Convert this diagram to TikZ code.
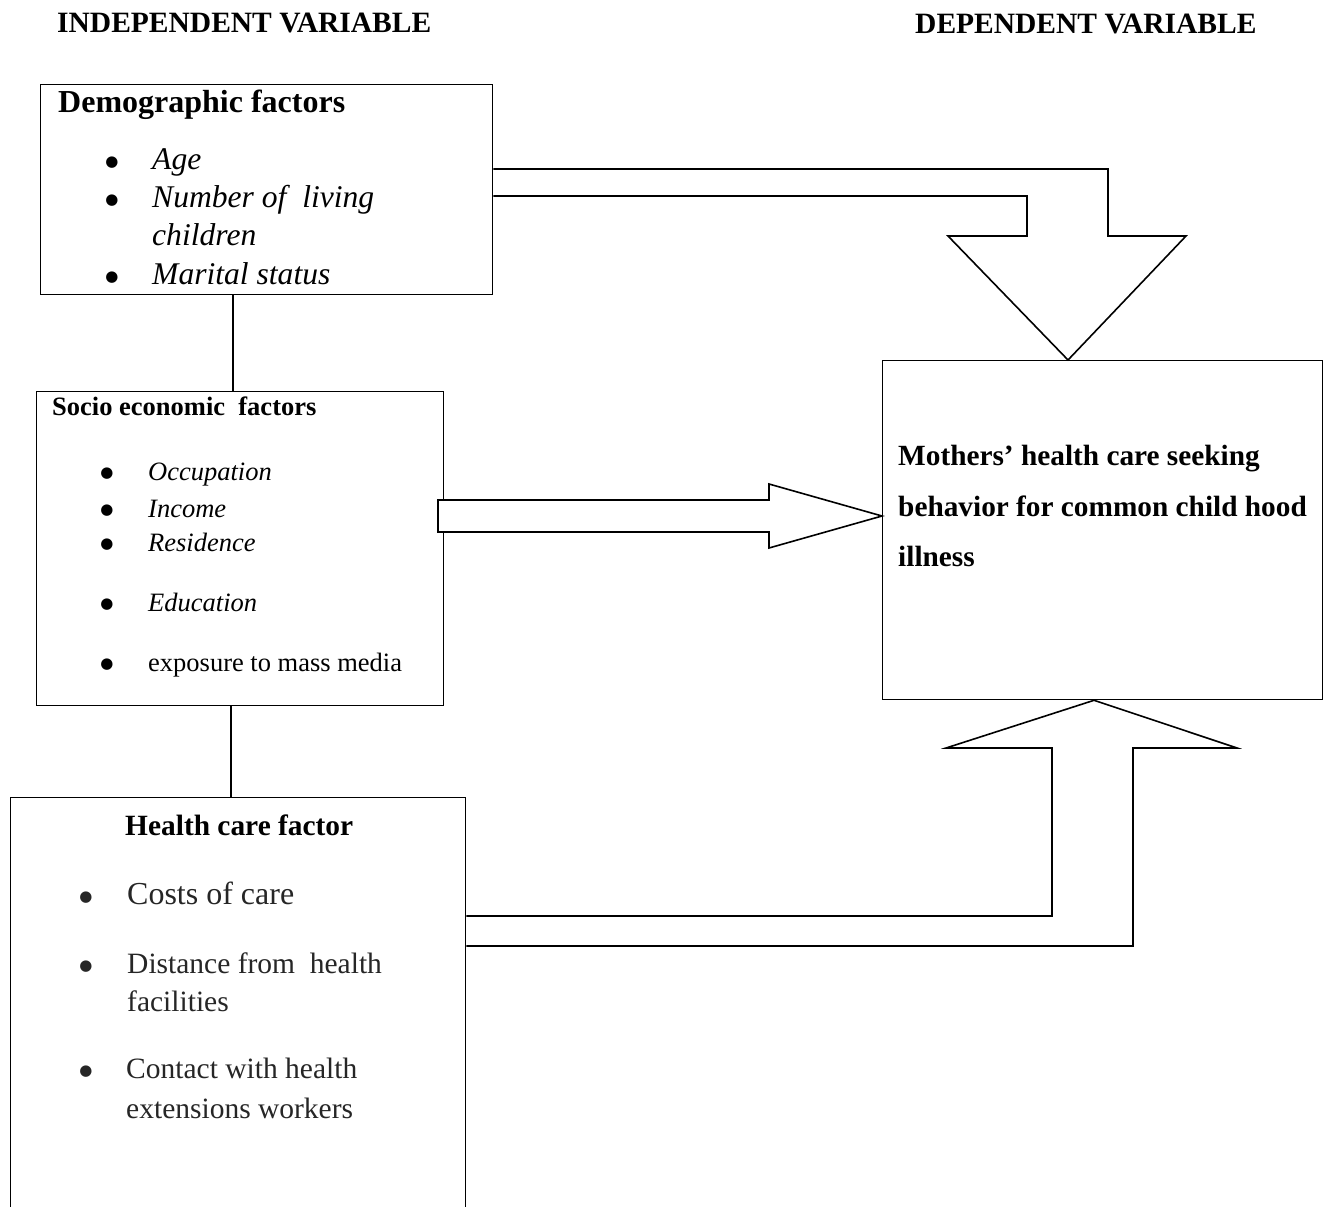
\documentclass[tikz,border=0pt]{standalone}
\usepackage{fontspec}
\setmainfont{Liberation Serif}
\newfontfamily\dvfont{DejaVu Sans}
\newcommand{\bigbul}[1]{\raisebox{#1pt}{\dvfont\fontsize{15}{15}\selectfont ●}}
\begin{document}
\begin{tikzpicture}[x=1pt,y=-1pt,
  box/.style={draw,line width=1.3pt,inner sep=0pt,anchor=north west},
  conn/.style={draw,line width=1.3pt},
  blk/.style={draw,line width=1.6pt,line join=miter,fill=white},
  txt/.style={anchor=base west,inner sep=0pt},
  bul/.style={anchor=base,inner sep=0pt},
  ttl/.style={txt,font=\fontsize{29.5}{34}\selectfont\bfseries},
  fa/.style={font=\fontsize{31.6}{37}\selectfont\itshape},
  fb/.style={font=\fontsize{26.5}{31}\selectfont},
  fbi/.style={font=\fontsize{26.5}{31}\selectfont\itshape},
  fc/.style={font=\fontsize{29.5}{35}\selectfont,text=black!85},
  fd/.style={font=\fontsize{29.3}{35}\selectfont\bfseries}
]
\clip (0,0) rectangle (1329,1206);
\fill[white] (0,0) rectangle (1329,1206);

% titles
\node[ttl] (indep) at (57,33) {INDEPENDENT VARIABLE};
\node[ttl] (dep) at (915,34) {DEPENDENT VARIABLE};

% boxes
\node[box,minimum width=452pt,minimum height=210pt] (b1) at (40,84) {};
\node[box,minimum width=407pt,minimum height=314pt] (b2) at (36,391) {};
\node[box,minimum width=455pt,minimum height=440pt] (b3) at (10,797) {};
\node[box,minimum width=440pt,minimum height=339pt] (b4) at (882,360) {};

% connectors between boxes
\coordinate (x1) at (233,0);
\coordinate (x2) at (231,0);
\draw[conn] (b1.south -| x1) -- (b2.north -| x1);
\draw[conn] (b2.south -| x2) -- (b3.north -| x2);

% box 1 text
\node[txt,font=\fontsize{32}{38}\selectfont\bfseries] (h1) at (58,113) {Demographic factors};
\node[bul] (d1b) at (112,170) {\bigbul{3}};
\node[txt,fa] (d1) at (152,170) {Age};
\node[bul] (d2b) at (112,208) {\bigbul{3}};
\node[txt,fa] (d2) at (152,208) {Number of\ \ living};
\node[txt,fa] (d2c) at (152,245) {children};
\node[bul] (d3b) at (112,284) {\bigbul{3}};
\node[txt,fa] (d3) at (152,284) {Marital status};

% box 2 text
\node[txt,font=\fontsize{26.5}{31}\selectfont\bfseries] (h2) at (52,415) {Socio economic\ \ factors};
\node[bul] (s1b) at (107,480) {\bigbul{3}};
\node[txt,fbi] (s1) at (148,480) {Occupation};
\node[bul] (s2b) at (107,517) {\bigbul{3}};
\node[txt,fbi] (s2) at (148,517) {Income};
\node[bul] (s3b) at (107,551) {\bigbul{3}};
\node[txt,fbi] (s3) at (148,551) {Residence};
\node[bul] (s4b) at (107,611) {\bigbul{3}};
\node[txt,fbi] (s4) at (148,611) {Education};
\node[bul] (s5b) at (107,671) {\bigbul{3}};
\node[txt,fb] (s5) at (148,671) {exposure to mass media};

% box 3 text
\node[txt,font=\fontsize{29.4}{35}\selectfont\bfseries] (h3) at (125,835) {Health care factor};
\node[bul,text=black!85] (c1b) at (86,904) {\bigbul{3}};
\node[txt,fc,font=\fontsize{32}{38}\selectfont] (c1) at (127,904) {Costs of care};
\node[bul,text=black!85] (c2b) at (86,973) {\bigbul{3}};
\node[txt,fc] (c2) at (127,973) {Distance from\ \ health};
\node[txt,fc] (c2c) at (127,1011) {facilities};
\node[bul,text=black!85] (c3b) at (86,1078) {\bigbul{3}};
\node[txt,fc] (c3) at (126,1078) {Contact with health};
\node[txt,fc] (c3c) at (126,1118) {extensions workers};

% box 4 text
\node[txt,fd] (m1) at (898,465) {Mothers’ health care seeking};
\node[txt,fd] (m2) at (898,516) {behavior for common child hood};
\node[txt,fd] (m3) at (898,566) {illness};

% block arrow 1 (from demographic box down into outcome box)
\draw[blk] (b1.east |- 0,169) -- (1108,169) -- (1108,236) -- (1186,236)
  -- (b4.north -| 1068,0) -- (948,236) -- (1027,236) -- (1027,196) -- (b1.east |- 0,196);

% block arrow 2 (from socio-economic box right into outcome box)
\draw[blk] (438,500) -- (769,500) -- (769,484) -- (b4.west |- 0,516)
  -- (769,548) -- (769,532) -- (438,532) -- cycle;

% block arrow 3 (from health care box up into outcome box)
\draw[blk] (b3.east |- 0,916) -- (1052,916) -- (1052,748) -- (946,748)
  -- (b4.south -| 1094,0) -- (1237,748) -- (1133,748) -- (1133,946) -- (b3.east |- 0,946);
\end{tikzpicture}
\end{document}
